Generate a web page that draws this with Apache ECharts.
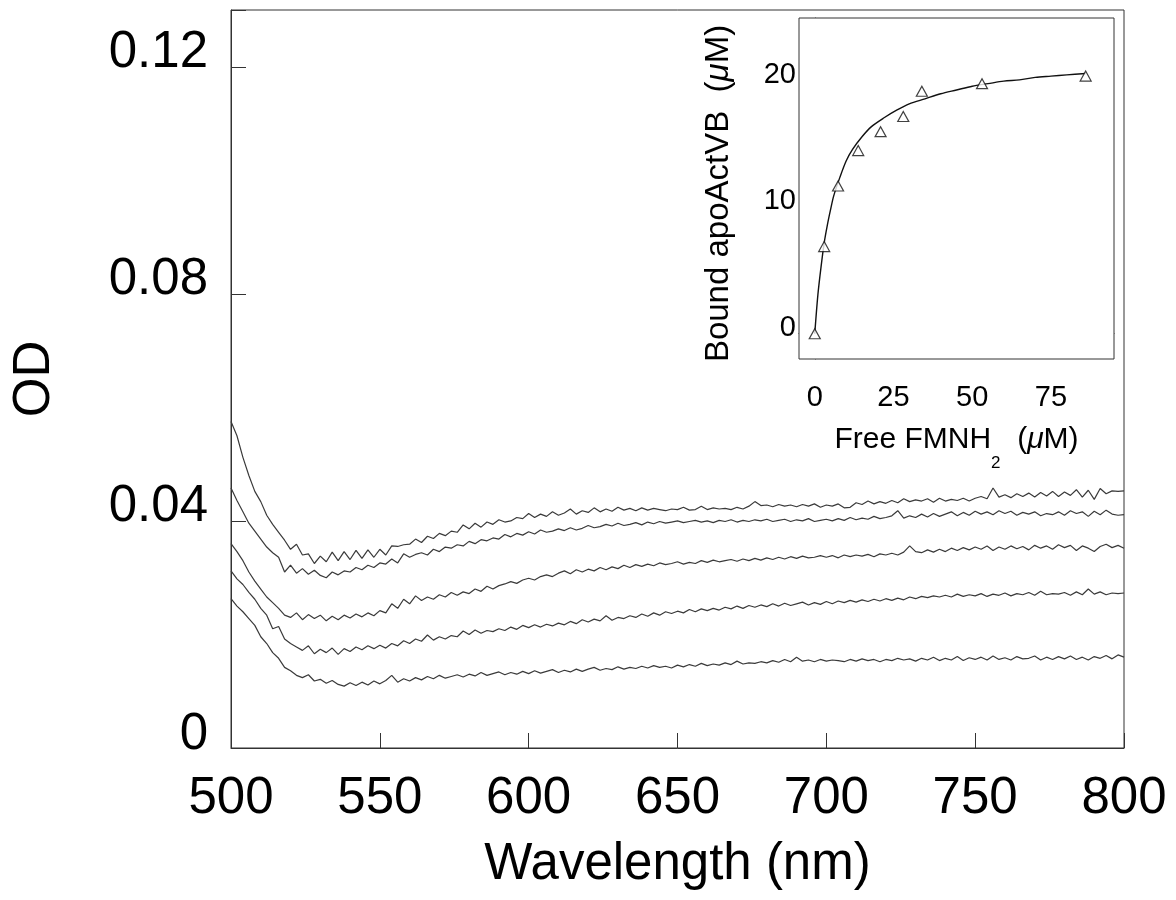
<!DOCTYPE html>
<html><head><meta charset="utf-8">
<script src="https://cdn.jsdelivr.net/npm/echarts@6/dist/echarts.min.js"></script>
<style>html,body{margin:0;padding:0;background:#fff}#c{width:1176px;height:900px}</style>
</head><body><div id="c"></div>
<script>
// Main spectra: OD in milli-OD units (x1000), wavelengths 500..800 nm, step 2 nm
const wavelengthStart = 500;
const wavelengthStep = 2;
const spectrum1 = [
57.5, 55.0, 51.2, 48.0, 45.2, 43.4, 41.0, 39.4, 38.0, 36.6,
35.0, 35.9, 34.0, 34.2, 32.5, 33.8, 32.8, 34.5, 33.0, 34.6,
33.2, 34.8, 33.4, 34.9, 33.6, 35.0, 34.0, 35.6, 35.5, 35.8,
35.9, 36.8, 36.2, 37.3, 36.9, 37.8, 37.4, 38.2, 38.0, 39.3,
38.6, 39.6, 38.9, 39.8, 39.4, 40.2, 39.8, 40.0, 40.6, 40.4,
41.3, 40.6, 41.2, 40.8, 41.6, 41.0, 41.4, 42.1, 41.2, 41.8,
41.5, 42.3, 41.6, 42.1, 41.7, 42.4, 41.9, 42.2, 41.8, 42.3,
41.9, 42.2, 42.0, 41.8, 42.1, 42.0, 42.4, 41.9, 42.0, 42.6,
42.0, 42.3, 42.1, 42.2, 42.0, 42.4, 42.1, 42.6, 43.4, 42.7,
42.8, 42.5, 42.9, 42.6, 42.8, 42.5, 42.9, 42.6, 43.0, 42.4,
42.8, 42.6, 43.0, 42.3, 42.4, 43.2, 42.9, 43.5, 43.0, 43.4,
43.1, 43.6, 43.2, 43.9, 43.4, 43.7, 43.5, 43.9, 43.3, 44.0,
43.5, 43.8, 43.6, 44.0, 43.5, 44.0, 44.3, 43.9, 45.8, 44.2,
44.6, 44.1, 44.8, 44.3, 44.9, 44.2, 45.0, 44.4, 45.2, 44.3,
45.1, 44.5, 45.5, 44.2, 45.4, 43.8, 45.7, 44.8, 45.3, 45.2,
45.3];
const spectrum2 = [
45.8, 43.6, 41.6, 39.6, 38.2, 36.8, 35.4, 34.4, 33.6, 31.0,
32.2, 30.8, 31.6, 30.6, 31.3, 30.4, 30.0, 31.0, 30.5, 31.2,
31.0, 31.8, 31.4, 32.2, 31.8, 32.6, 32.4, 33.3, 32.6, 34.2,
33.6, 34.1, 34.4, 34.0, 35.0, 34.6, 35.4, 35.2, 35.8, 35.6,
36.4, 36.0, 36.7, 36.5, 37.0, 36.8, 37.6, 37.2, 37.8, 37.5,
38.1, 37.7, 38.4, 38.0, 38.2, 38.6, 38.3, 38.8, 38.4, 38.7,
39.2, 38.8, 39.0, 39.4, 39.1, 39.6, 39.2, 39.4, 39.7, 39.3,
39.8, 39.5, 39.9, 39.6, 39.8, 40.0, 39.7, 39.9, 40.1, 39.8,
40.0, 39.7, 40.1, 39.9, 40.2, 39.8, 40.1, 39.9, 40.2, 40.0,
40.3, 39.9, 40.1, 40.3, 39.9, 40.2, 40.0, 40.4, 39.9, 40.1,
40.3, 40.0, 40.4, 40.1, 40.6, 40.2, 40.5, 40.3, 40.8, 40.4,
40.6, 40.9, 41.8, 40.5, 40.9, 40.6, 41.2, 40.7, 41.3, 40.8,
41.2, 41.6, 40.9, 41.5, 41.0, 41.7, 41.2, 41.6, 41.1, 41.8,
41.3, 41.7, 41.0, 41.5, 41.2, 41.6, 40.9, 41.3, 41.1, 41.6,
41.0, 41.8, 41.3, 41.6, 40.8, 41.7, 41.1, 41.9, 41.2, 41.0,
41.1];
const spectrum3 = [
36.0, 34.6, 33.0, 31.0, 29.4, 28.0, 26.6, 25.6, 24.6, 23.4,
23.0, 23.8, 22.6, 23.5, 22.8, 23.4, 22.4, 23.2, 22.6, 23.4,
22.9, 23.6, 23.1, 23.8, 23.3, 24.2, 23.8, 25.4, 24.6, 26.2,
25.4, 26.8, 26.0, 26.6, 26.2, 27.0, 26.6, 27.4, 26.9, 27.5,
27.2, 28.0, 27.6, 28.5, 28.0, 28.6, 28.9, 29.3, 29.0, 29.6,
29.9, 29.6, 30.2, 30.5, 30.2, 30.8, 31.2, 30.7, 31.4, 31.0,
31.5, 31.2, 31.8, 31.4, 31.9, 31.6, 32.2, 31.8, 32.3, 32.0,
32.4, 32.1, 32.6, 32.3, 32.5, 32.8, 32.4, 32.7, 32.5, 33.0,
32.7, 33.1, 32.8, 33.0, 33.2, 32.9, 33.3, 33.0, 33.4, 33.1,
33.5, 33.2, 33.6, 33.3, 33.7, 33.4, 33.8, 33.5, 33.6, 33.9,
33.6, 33.9, 33.5, 34.0, 33.7, 34.0, 33.8, 34.1, 33.7, 34.2,
34.0, 34.3, 34.0, 34.5, 35.6, 34.6, 34.4, 34.9, 34.5, 35.0,
34.6, 35.2, 34.8, 35.3, 34.9, 35.4, 35.0, 35.6, 34.8, 35.4,
35.0, 35.6, 35.1, 35.5, 34.9, 35.7, 35.2, 35.6, 35.0, 35.8,
35.3, 35.7, 34.8, 35.6, 35.2, 34.6, 35.5, 35.9, 35.3, 35.7,
35.2];
const spectrum4 = [
31.2, 29.8, 28.8, 27.4, 26.2, 24.6, 23.4, 21.0, 21.4, 19.2,
18.4, 17.8, 17.2, 18.0, 16.6, 17.4, 16.8, 17.6, 16.5, 17.5,
17.0, 17.8, 17.3, 18.0, 17.5, 18.1, 17.6, 18.4, 18.0, 18.9,
18.4, 19.2, 18.8, 19.9, 19.0, 19.6, 19.2, 19.8, 19.6, 20.6,
20.0, 20.8, 20.2, 20.7, 20.5, 21.0, 20.7, 21.3, 20.9, 21.6,
21.2, 21.7, 21.3, 21.8, 21.5, 22.0, 21.7, 22.3, 21.9, 22.6,
22.2, 22.7, 22.4, 23.3, 22.5, 23.0, 22.8, 23.3, 23.0, 23.6,
23.2, 23.8, 23.4, 24.0, 23.7, 24.1, 23.8, 24.4, 24.0, 24.5,
24.2, 24.6, 24.3, 24.8, 24.5, 25.0, 24.6, 25.1, 24.8, 25.2,
24.9, 25.4, 25.0, 25.5, 25.1, 25.4, 25.7, 25.2, 25.6, 25.3,
25.8, 25.4, 25.9, 25.6, 26.0, 25.7, 26.1, 25.8, 26.2, 25.9,
26.3, 26.0, 26.4, 26.1, 26.6, 26.3, 26.7, 26.5, 26.8, 26.6,
26.9, 26.6, 27.1, 26.7, 27.0, 26.8, 27.2, 26.7, 27.1, 26.9,
27.3, 26.8, 27.2, 27.0, 27.4, 26.9, 27.6, 27.0, 27.2, 27.1,
27.4, 26.9, 27.5, 27.0, 28.0, 27.1, 27.5, 27.0, 27.3, 27.2,
27.3];
const spectrum5 = [
26.3, 25.0, 24.0, 22.8, 21.6, 19.6, 18.4, 16.8, 15.8, 14.2,
13.6, 12.8, 12.4, 12.9, 11.8, 12.1, 11.4, 11.9, 11.2, 10.9,
11.5, 11.0, 11.6, 11.1, 11.8, 11.3, 11.9, 12.8, 11.6, 12.2,
11.8, 12.4, 12.0, 12.6, 12.2, 12.8, 12.3, 12.6, 12.9, 12.5,
13.0, 12.7, 13.3, 12.8, 13.1, 13.4, 12.9, 13.3, 13.0, 13.5,
13.1, 13.6, 13.2, 13.5, 13.8, 13.3, 13.7, 13.4, 13.9, 13.5,
13.9, 14.2, 13.7, 14.0, 13.8, 14.3, 13.9, 14.2, 14.0, 14.4,
14.1, 14.5, 14.2, 14.4, 14.1, 14.6, 14.3, 14.7, 14.4, 14.9,
14.5, 14.8, 14.6, 15.0, 14.7, 15.3, 14.8, 15.0, 14.9, 15.2,
15.0, 15.4, 15.1, 15.6, 15.2, 16.0, 15.3, 15.5, 15.2, 15.6,
15.3, 15.5, 15.4, 15.2, 15.6, 15.3, 15.7, 15.4, 15.6, 15.2,
15.6, 15.4, 15.8, 15.5, 15.7, 15.3, 15.8, 15.5, 16.0, 15.4,
15.8, 15.5, 16.1, 15.4, 15.9, 15.6, 16.0, 15.5, 16.2, 15.6,
15.9, 15.5, 16.1, 15.7, 15.8, 16.2, 15.5, 16.0, 15.6, 16.1,
15.7, 16.2, 15.6, 16.0, 15.5, 16.1, 15.8, 16.3, 15.7, 16.4,
16.0];

// Main axes
const yTickValues = [0, 40, 80, 120];            // mOD
const yTickLabels = ['0', '0.04', '0.08', '0.12']; // OD

// Inset: binding data
const freeFMNH2 = [0, 3.0, 7.4, 13.8, 20.9, 28.1, 34.0, 53.1, 86.0];
const boundApo = [0, 6.9, 11.7, 14.5, 16.0, 17.2, 19.2, 19.8, 20.4];
// Inset: fitted curve
const fitX = [0, 1, 2, 3, 4, 5, 6, 8, 10, 12, 15, 18, 22, 26, 30, 35, 40, 45, 50, 55, 60, 65, 70, 75, 80, 86];
const fitY = [0, 3.1, 5.3, 7.2, 8.6, 9.8, 10.9, 12.4, 13.7, 14.6, 15.6, 16.4, 17.1, 17.7, 18.2, 18.6, 19.0, 19.3, 19.6, 19.8, 20.0, 20.1, 20.3, 20.4, 20.5, 20.6];
const insetXTicks = [0, 25, 50, 75];
const insetYTicks = [0, 10, 20];

const FONT = '"Liberation Sans", Arial, Helvetica, sans-serif';
const AX = '#333';

function toPairs(arr) { return arr.map((v, i) => [wavelengthStart + i * wavelengthStep, v]); }
const spectra = [spectrum1, spectrum2, spectrum3, spectrum4, spectrum5];

const chart = echarts.init(document.getElementById('c'), null, {renderer: 'canvas'});
const option = {
  animation: false,
  backgroundColor: '#fff',
  grid: [
    {left: 231, right: 52, top: 10, bottom: 152, show: true, borderColor: AX, borderWidth: 1, outerBoundsMode: 'none', containLabel: false},
    {left: 799, right: 62, top: 18, bottom: 541, show: true, borderColor: AX, borderWidth: 1, backgroundColor: '#fff', outerBoundsMode: 'none', containLabel: false, z: 10}
  ],
  xAxis: [
    {
      type: 'value', gridIndex: 0, min: 500, max: 800, interval: 50,
      name: 'Wavelength (nm)', nameLocation: 'middle', nameGap: 91,
      nameTextStyle: {fontFamily: FONT, fontSize: 51, color: '#000'},
      axisLine: {show: true, lineStyle: {color: AX, width: 1}},
      axisTick: {show: true, inside: true, length: 15, lineStyle: {color: AX, width: 1}},
      axisLabel: {fontFamily: FONT, fontSize: 51, color: '#000', margin: 25},
      splitLine: {show: false}
    },
    {
      type: 'value', gridIndex: 1, min: -5, max: 95,
      name: '{a|Free FMNH}{s|2}{a|  (}{i|\u03bc}{a|M)}', nameLocation: 'middle', nameGap: 48,
      nameTextStyle: {
        fontFamily: FONT, fontSize: 30, color: '#000',
        rich: {
          a: {fontFamily: FONT, fontSize: 30, color: '#000', lineHeight: 65},
          i: {fontFamily: FONT, fontSize: 30, color: '#000', fontStyle: 'italic', lineHeight: 65},
          s: {fontFamily: FONT, fontSize: 17, color: '#000', lineHeight: 17, verticalAlign: 'bottom'}
        }
      },
      axisLine: {show: true, lineStyle: {color: AX, width: 1}},
      axisTick: {show: true, inside: true, length: 16, customValues: insetXTicks, lineStyle: {color: AX, width: 1}},
      axisLabel: {fontFamily: FONT, fontSize: 29, color: '#000', margin: 24, customValues: insetXTicks},
      splitLine: {show: false}
    }
  ],
  yAxis: [
    {
      type: 'value', gridIndex: 0, min: 0, max: 130, interval: 40,
      name: 'OD', nameLocation: 'middle', nameGap: 171,
      nameTextStyle: {fontFamily: FONT, fontSize: 51, color: '#000'},
      axisLine: {show: true, lineStyle: {color: AX, width: 1}},
      axisTick: {show: true, inside: true, length: 15, lineStyle: {color: AX, width: 1}},
      axisLabel: {
        fontFamily: FONT, fontSize: 51, color: '#000', margin: 23,
        verticalAlign: 'bottom', lineHeight: 27,
        formatter: v => { const k = yTickValues.indexOf(v); return k >= 0 ? yTickLabels[k] : ''; }
      },
      splitLine: {show: false}
    },
    {
      type: 'value', gridIndex: 1, min: -2, max: 25,
      name: '{a|Bound apoActVB  (}{i|\u03bc}{a|M)}', nameLocation: 'middle', nameGap: 64,
      nameTextStyle: {
        fontFamily: FONT, fontSize: 33, color: '#000', padding: [0, 10, 0, 0],
        rich: {
          a: {fontFamily: FONT, fontSize: 33, color: '#000'},
          i: {fontFamily: FONT, fontSize: 33, color: '#000', fontStyle: 'italic'}
        }
      },
      axisLine: {show: true, lineStyle: {color: AX, width: 1}},
      axisTick: {show: true, inside: true, length: 16, customValues: insetYTicks, lineStyle: {color: AX, width: 1}},
      axisLabel: {fontFamily: FONT, fontSize: 29, color: '#000', margin: 3, verticalAlign: 'bottom', lineHeight: 12, customValues: insetYTicks},
      splitLine: {show: false}
    }
  ],
  series: spectra.map((s, k) => ({
    type: 'line', name: 'spectrum' + (k + 1), xAxisIndex: 0, yAxisIndex: 0,
    data: toPairs(s), showSymbol: false, symbol: 'none',
    lineStyle: {color: '#3a3a3a', width: 1.2}
  })).concat([
    {
      type: 'line', name: 'fit', xAxisIndex: 1, yAxisIndex: 1, z: 11,
      data: fitX.map((x, i) => [x, fitY[i]]), showSymbol: false, symbol: 'none', smooth: 0.3,
      lineStyle: {color: '#111', width: 1.4}
    },
    {
      type: 'scatter', name: 'binding', xAxisIndex: 1, yAxisIndex: 1, z: 12,
      data: freeFMNH2.map((x, i) => [x, boundApo[i]]),
      symbol: 'triangle', symbolSize: [11, 10],
      itemStyle: {color: '#fff', borderColor: '#111', borderWidth: 1.2}
    }
  ])
};
chart.setOption(option);
</script>
</body></html>
